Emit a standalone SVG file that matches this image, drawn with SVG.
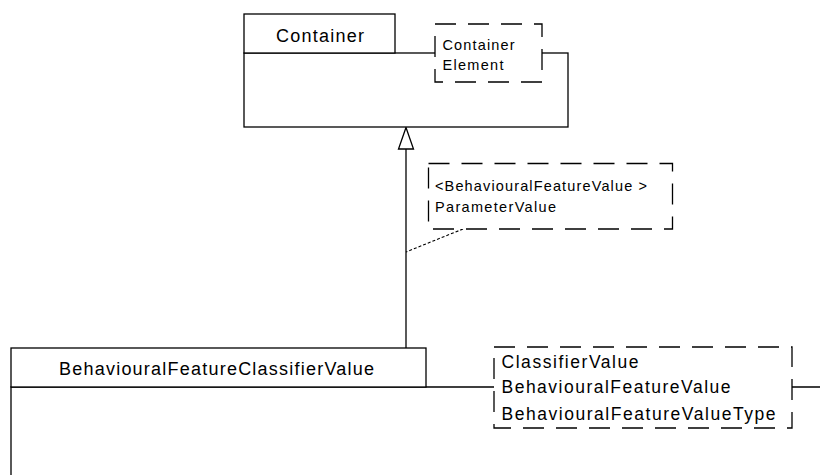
<svg xmlns="http://www.w3.org/2000/svg" width="820" height="475" viewBox="0 0 820 475">
<style>
.box{fill:#fff;stroke:#000;stroke-width:1.3}
.ln{fill:none;stroke:#000;stroke-width:1.3}
.note{fill:#fff;stroke:#000;stroke-width:1.3;stroke-dasharray:21,12}
.t17{font-family:"Liberation Sans",Arial,sans-serif;font-size:18px;fill:#000}
.t16{font-family:"Liberation Sans",Arial,sans-serif;font-size:17.5px;fill:#000}
.t14{font-family:"Liberation Sans",Arial,sans-serif;font-size:14.5px;fill:#000}
</style>
<rect width="820" height="475" fill="#fff"/>
<g id="connectors">
<line class="ln" x1="406" y1="149" x2="406" y2="348"/>
<polygon points="406,127.5 398.5,149 413.5,149" fill="#fff" stroke="#000" stroke-width="1.3"/>
<line x1="463" y1="229" x2="406" y2="252" stroke="#000" stroke-width="1.1" stroke-dasharray="3,2"/>
</g>
<g id="Container">
<rect class="box" x="244" y="53" width="324" height="74"/>
<rect class="box" x="244" y="14" width="151" height="39"/>
<text class="t17" x="276" y="41.5" textLength="88" lengthAdjust="spacing">Container</text>
</g>
<g id="ContainerElementNote">
<rect class="note" x="435" y="24" width="107" height="58"/>
<text class="t14" x="442.5" y="49.5" textLength="72" lengthAdjust="spacing">Container</text>
<text class="t14" x="442.5" y="70" textLength="61" lengthAdjust="spacing">Element</text>
</g>
<g id="ParameterValueNote">
<rect class="note" x="428.5" y="163.5" width="244" height="65.5"/>
<text class="t14" x="435" y="191" textLength="212" lengthAdjust="spacing">&lt;BehaviouralFeatureValue &gt;</text>
<text class="t14" x="435" y="212" textLength="121" lengthAdjust="spacing">ParameterValue</text>
</g>
<g id="BehaviouralFeatureClassifierValue">
<path class="ln" d="M11,476 V387 H821"/>
<rect class="box" x="11" y="348" width="415" height="39"/>
<text class="t17" x="59" y="374.5" textLength="315" lengthAdjust="spacing">BehaviouralFeatureClassifierValue</text>
</g>
<g id="ClassifierValueNote">
<rect class="note" x="494" y="347" width="298" height="81"/>
<text class="t16" x="501.5" y="367.5" textLength="137" lengthAdjust="spacing">ClassifierValue</text>
<text class="t16" x="501.5" y="393" textLength="229" lengthAdjust="spacing">BehaviouralFeatureValue</text>
<text class="t16" x="501.5" y="419.5" textLength="274" lengthAdjust="spacing">BehaviouralFeatureValueType</text>
</g>
</svg>
